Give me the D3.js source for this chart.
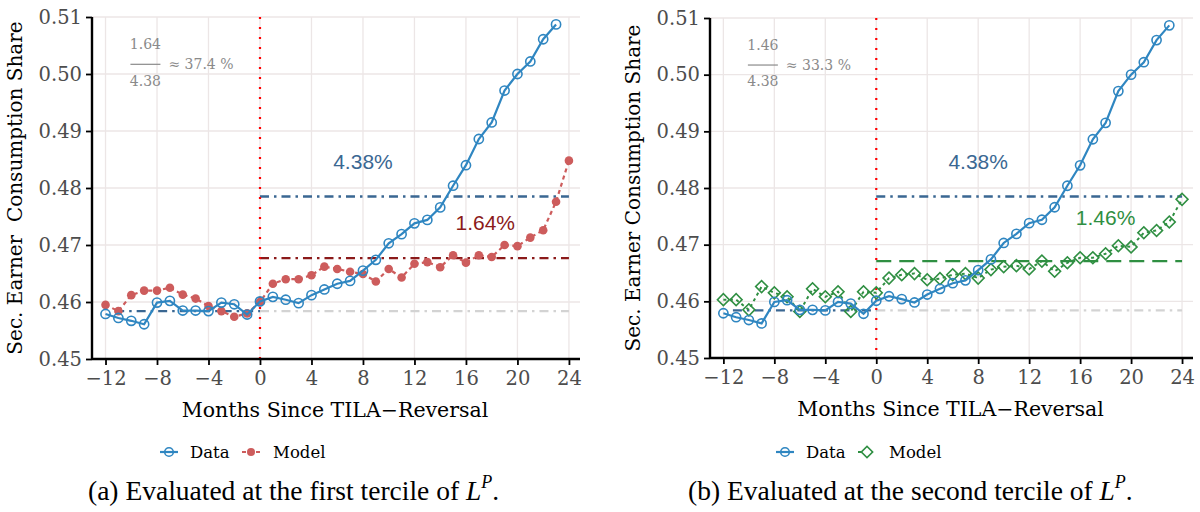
<!DOCTYPE html>
<html>
<head>
<meta charset="utf-8">
<script src="https://cdn.jsdelivr.net/npm/d3@7"></script>
<style>
  body { margin: 0; background: #fff; }
  svg { display: block; }
</style>
</head>
<body>
<svg id="chart" width="1200" height="512"></svg>
<script>
// months on the x axis
const dataMonths = [-12,-11,-10,-9,-8,-7,-6,-5,-4,-3,-2,-1,0,1,2,3,4,5,6,7,8,9,10,11,12,13,14,15,16,17,18,19,20,21,22,23];
const modelMonths = [-12,-11,-10,-9,-8,-7,-6,-5,-4,-3,-2,-1,0,1,2,3,4,5,6,7,8,9,10,11,12,13,14,15,16,17,18,19,20,21,22,23,24];

// observed share (same in both panels)
const dataValues = [0.4579,0.4572,0.4567,0.4561,0.4599,0.4602,0.4585,0.4585,0.4584,0.4599,0.4596,0.4578,
  0.4601,0.4609,0.4604,0.4598,0.4612,0.4622,0.4632,0.4637,0.4655,0.4674,0.4703,0.4719,0.4738,0.4744,
  0.4766,0.4804,0.4840,0.4886,0.4915,0.4971,0.5000,0.5022,0.5061,0.5087];

// model, first tercile
const modelA = [0.4595,0.4584,0.4612,0.4620,0.4620,0.4625,0.4613,0.4606,0.4593,0.4584,0.4574,0.4580,
  0.4600,0.4632,0.4640,0.4640,0.4647,0.4662,0.4658,0.4653,0.4649,0.4636,0.4658,0.4643,0.4667,0.4670,
  0.4661,0.4682,0.4669,0.4682,0.4679,0.4700,0.4698,0.4713,0.4726,0.4776,0.4848];

// model, second tercile
const modelB = [0.4603,0.4603,0.4585,0.4626,0.4615,0.4608,0.4582,0.4622,0.4608,0.4617,0.4582,0.4617,
  0.4615,0.4641,0.4647,0.4649,0.4638,0.4640,0.4647,0.4649,0.4641,0.4656,0.4661,0.4663,0.4657,0.4671,
  0.4653,0.4668,0.4677,0.4677,0.4684,0.4698,0.4696,0.4721,0.4725,0.4740,0.4780];

// reference levels
const preLevel = 0.4584;
const dataPostLevel = 0.4785;
const modelPostLevels = [0.4677, 0.4671];

const yTicks = [0.45, 0.46, 0.47, 0.48, 0.49, 0.50, 0.51];
const xTicks = [-12, -8, -4, 0, 4, 8, 12, 16, 20, 24];

const ratioNum = ['1.64', '1.46'];
const ratioText = ['≈ 37.4 %', '≈ 33.3 %'];
const effectLabels = ['1.64%', '1.46%'];
const captions = ['(a) Evaluated at the first tercile of ', '(b) Evaluated at the second tercile of '];
const yTitles = ['Sec. Earner\u00a0 Consumption Share', 'Sec. Earner Consumption Share'];

const colors = {
  data: '#2f86c1',
  steel: '#3a6792',
  modelA: '#cd5c5c',
  darkRed: '#8b1a1a',
  green: '#2f8f42',
  refGray: '#d3d3d3',
  grid: '#ece6e6',
  tick: '#4d4d4d',
  note: '#8a8a8a'
};

const axisFont = '"DejaVu Serif", serif';
const serif = '"Liberation Serif", "Times New Roman", serif';
const sans = '"Liberation Sans", Arial, sans-serif';

const svg = d3.select('#chart');

const panels = [
  { left: 92, right: 580, top: 17, bottom: 359, model: modelA, kind: 'a' },
  { left: 710, right: 1193, top: 18, bottom: 358, model: modelB, kind: 'b' }
];

panels.forEach((p, i) => drawPanel(p, i));

function drawPanel(p, i) {
  const g = svg.append('g');

  const x = d3.scaleLinear().domain([-13.05, 24.86]).range([p.left, p.right]);
  const y = d3.scaleLinear().domain([0.45, 0.51]).range([p.bottom, p.top]);

  // grid
  g.selectAll('.gx').data(xTicks).enter().append('line')
    .attr('x1', d => x(d)).attr('x2', d => x(d))
    .attr('y1', p.top).attr('y2', p.bottom)
    .attr('stroke', colors.grid).attr('stroke-width', 1.3);
  g.selectAll('.gy').data(yTicks).enter().append('line')
    .attr('x1', p.left).attr('x2', p.right)
    .attr('y1', d => y(d)).attr('y2', d => y(d))
    .attr('stroke', colors.grid).attr('stroke-width', 1.3);

  // reference lines
  const dashDot = '9,5,2.5,5';
  g.append('line')
    .attr('x1', x(0)).attr('x2', x(24))
    .attr('y1', y(preLevel)).attr('y2', y(preLevel))
    .attr('stroke', colors.refGray).attr('stroke-width', 2.4).attr('stroke-dasharray', dashDot);
  g.append('line')
    .attr('x1', x(-11.25)).attr('x2', x(0))
    .attr('y1', y(preLevel)).attr('y2', y(preLevel))
    .attr('stroke', colors.steel).attr('stroke-width', 2.4).attr('stroke-dasharray', dashDot);
  g.append('line')
    .attr('x1', x(0)).attr('x2', x(24))
    .attr('y1', y(dataPostLevel)).attr('y2', y(dataPostLevel))
    .attr('stroke', colors.steel).attr('stroke-width', 2.4).attr('stroke-dasharray', dashDot);
  g.append('line')
    .attr('x1', x(0)).attr('x2', x(24))
    .attr('y1', y(modelPostLevels[i])).attr('y2', y(modelPostLevels[i]))
    .attr('stroke', p.kind === 'a' ? colors.darkRed : colors.green)
    .attr('stroke-width', 2.4)
    .attr('stroke-dasharray', p.kind === 'a' ? dashDot : '15,8');

  // red vertical at 0
  g.append('line')
    .attr('x1', x(0)).attr('x2', x(0))
    .attr('y1', p.top).attr('y2', p.bottom)
    .attr('stroke', '#ff0000').attr('stroke-width', 2.2)
    .attr('stroke-dasharray', '2,8');

  const line = d3.line().x(d => x(d[0])).y(d => y(d[1]));

  // model series
  const modelPts = modelMonths.map((m, k) => [m, p.model[k]]);
  if (p.kind === 'a') {
    g.append('path').datum(modelPts)
      .attr('d', line).attr('fill', 'none')
      .attr('stroke', colors.modelA).attr('stroke-width', 2.2)
      .attr('stroke-dasharray', '4,3.5');
    g.selectAll('.mpt').data(modelPts).enter().append('circle')
      .attr('cx', d => x(d[0])).attr('cy', d => y(d[1])).attr('r', 4.3)
      .attr('fill', colors.modelA);
  } else {
    g.append('path').datum(modelPts)
      .attr('d', line).attr('fill', 'none')
      .attr('stroke', colors.green).attr('stroke-width', 2)
      .attr('stroke-dasharray', '3,3.5');
    g.selectAll('.mpt').data(modelPts).enter().append('path')
      .attr('transform', d => `translate(${x(d[0])},${y(d[1])}) rotate(45)`)
      .attr('d', 'M-4.2,-4.2H4.2V4.2H-4.2Z')
      .attr('fill', 'none').attr('stroke', colors.green).attr('stroke-width', 1.6);
  }

  // data series
  const dataPts = dataMonths.map((m, k) => [m, dataValues[k]]);
  g.append('path').datum(dataPts)
    .attr('d', line).attr('fill', 'none')
    .attr('stroke', colors.data).attr('stroke-width', 2.2);
  g.selectAll('.dpt').data(dataPts).enter().append('circle')
    .attr('cx', d => x(d[0])).attr('cy', d => y(d[1])).attr('r', 4.6)
    .attr('fill', 'none').attr('stroke', colors.data).attr('stroke-width', 1.6);

  // effect labels
  g.append('text')
    .attr('x', x(8)).attr('y', y(0.4846)).attr('dy', '0.35em')
    .attr('text-anchor', 'middle')
    .style('font-family', sans).style('font-size', '21px')
    .attr('fill', colors.steel).text('4.38%');
  g.append('text')
    .attr('x', x(p.kind === 'a' ? 17.5 : 18)).attr('y', y(p.kind === 'a' ? 0.4739 : 0.4747)).attr('dy', '0.35em')
    .attr('text-anchor', 'middle')
    .style('font-family', sans).style('font-size', '21px')
    .attr('fill', p.kind === 'a' ? colors.darkRed : colors.green)
    .text(effectLabels[i]);

  // ratio note
  const nx = x(-8.9);
  const note = g.append('g').attr('fill', colors.note)
    .style('font-family', axisFont).style('font-size', '14px');
  note.append('text').attr('x', nx).attr('y', y(0.5052)).attr('dy', '0.35em')
    .attr('text-anchor', 'middle').text(ratioNum[i]);
  note.append('line').attr('x1', nx - 15).attr('x2', nx + 15)
    .attr('y1', y(0.5017)).attr('y2', y(0.5017))
    .attr('stroke', colors.note).attr('stroke-width', 1.2);
  note.append('text').attr('x', nx).attr('y', y(0.4988)).attr('dy', '0.35em')
    .attr('text-anchor', 'middle').text('4.38');
  note.append('text').attr('x', nx + 23).attr('y', y(0.5017)).attr('dy', '0.35em')
    .text(ratioText[i]);

  // axes
  const yAxis = g.append('g').attr('transform', `translate(${p.left},0)`)
    .call(d3.axisLeft(y).tickValues(yTicks).tickFormat(d3.format('.2f')).tickSize(6).tickPadding(4));
  const xAxis = g.append('g').attr('transform', `translate(0,${p.bottom})`)
    .call(d3.axisBottom(x).tickValues(xTicks).tickFormat(d => d < 0 ? '\u2212' + Math.abs(d) : d).tickSize(6).tickPadding(6));
  [yAxis, xAxis].forEach(a => {
    a.select('.domain').attr('stroke', '#000').attr('stroke-width', 2.4);
    a.selectAll('.tick line').attr('stroke', '#000').attr('stroke-width', 1.8);
    a.selectAll('.tick text').attr('fill', colors.tick)
      .style('font-family', axisFont).style('font-size', '19.5px');
  });
  yAxis.select('.domain').attr('d', `M0,${p.bottom}V${p.top}`);
  xAxis.select('.domain').attr('d', `M${p.left},0H${p.right}`);

  // axis titles
  svg.append('text')
    .attr('transform', `translate(${p.left - 70},${(p.top + p.bottom) / 2}) rotate(-90)`)
    .attr('text-anchor', 'middle')
    .style('font-family', axisFont).style('font-size', '20px')
    .text(yTitles[i]);
  svg.append('text')
    .attr('x', (p.left + p.right) / 2 - 1).attr('y', p.bottom + 58)
    .attr('text-anchor', 'middle')
    .style('font-family', axisFont).style('font-size', '20.5px')
    .text('Months Since TILA\u2212Reversal');

  // legend
  const lx = p.left + (p.kind === 'a' ? 68 : 66);
  const ly = 452;
  const leg = svg.append('g').style('font-family', axisFont).style('font-size', '16.5px');
  leg.append('line').attr('x1', lx).attr('x2', lx + 18).attr('y1', ly).attr('y2', ly)
    .attr('stroke', colors.data).attr('stroke-width', 2.2);
  leg.append('circle').attr('cx', lx + 9).attr('cy', ly).attr('r', 4.3)
    .attr('fill', 'none').attr('stroke', colors.data).attr('stroke-width', 1.6);
  leg.append('text').attr('x', lx + 30).attr('y', ly).attr('dy', '0.35em').text('Data');
  const mx = lx + 82;
  if (p.kind === 'a') {
    leg.append('line').attr('x1', mx).attr('x2', mx + 18).attr('y1', ly).attr('y2', ly)
      .attr('stroke', colors.modelA).attr('stroke-width', 2.2).attr('stroke-dasharray', '4,3');
    leg.append('circle').attr('cx', mx + 9).attr('cy', ly).attr('r', 4)
      .attr('fill', colors.modelA);
  } else {
    leg.append('line').attr('x1', mx).attr('x2', mx + 18).attr('y1', ly).attr('y2', ly)
      .attr('stroke', colors.green).attr('stroke-width', 2).attr('stroke-dasharray', '3,3');
    leg.append('path').attr('transform', `translate(${mx + 9},${ly}) rotate(45)`)
      .attr('d', 'M-4,-4H4V4H-4Z')
      .attr('fill', '#fff').attr('stroke', colors.green).attr('stroke-width', 1.6);
  }
  leg.append('text').attr('x', mx + 31).attr('y', ly).attr('dy', '0.35em').text('Model');

  // caption
  const cap = svg.append('text')
    .attr('x', p.left + (p.kind === 'a' ? -4 : -22)).attr('y', 500)
    .style('font-family', serif).style('font-size', '27.5px');
  cap.append('tspan').text(captions[i]);
  cap.append('tspan').style('font-style', 'italic').text('L');
  cap.append('tspan').style('font-style', 'italic').style('font-size', '18px').attr('dy', -12).text('P');
  cap.append('tspan').attr('dy', 12).text('.');
}
</script>
</body>
</html>
